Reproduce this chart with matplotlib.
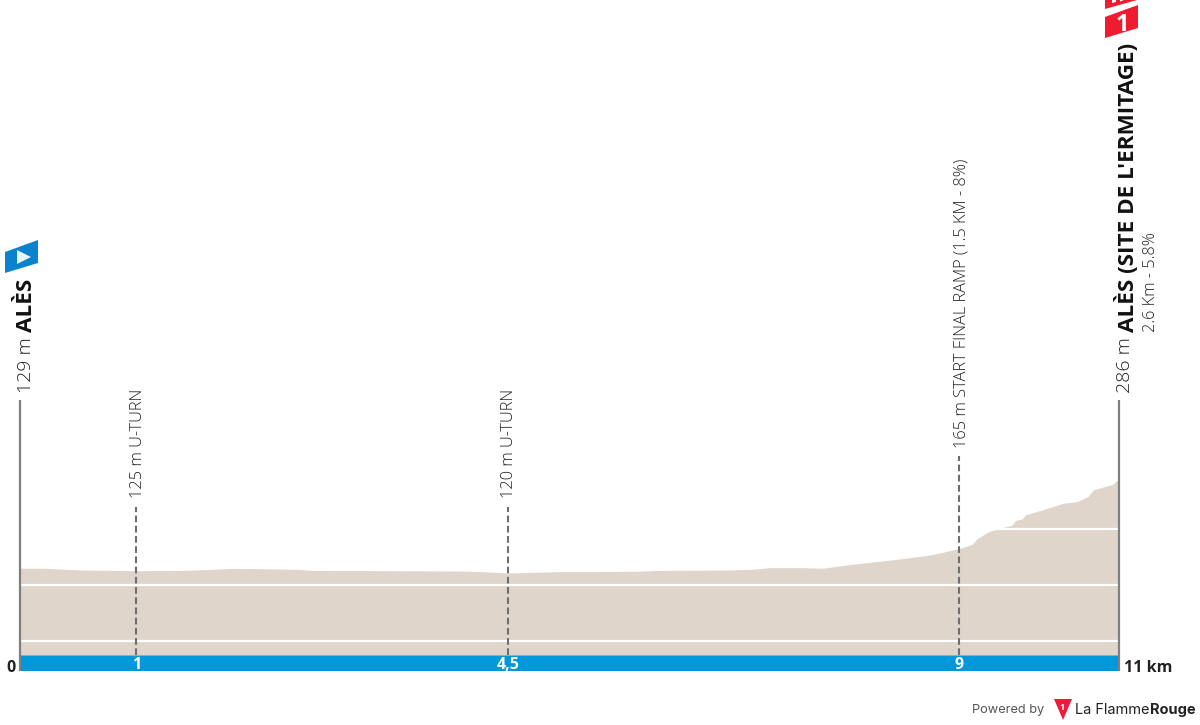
import matplotlib
matplotlib.use('Agg')
from matplotlib import pyplot as plt
from matplotlib.patches import Polygon

# profile
dist_km = [0, 0.23, 0.57, 1.13, 1.6, 1.93, 2.13, 2.47, 2.77, 2.93, 3.6, 4.4, 4.6, 4.89, 5.13, 5.41, 6.14,
           6.38, 7.08, 7.31, 7.51, 7.81, 8.04, 8.28, 8.78, 9.11, 9.41, 9.53, 9.58, 9.69, 9.84, 9.93, 9.96,
           10.03, 10.06, 10.28, 10.44, 10.58, 10.69, 10.74, 10.94, 10.97, 11]
alt_m = [130, 130, 127, 125.5, 126, 128, 129.7, 129, 128, 126, 125.6, 125, 124, 121.4, 122.6, 124, 124.4,
         126, 126.8, 128, 131, 131, 130, 136, 146, 153.6, 165.5, 173, 183, 195, 203, 207, 215,
         218, 225, 237, 246, 249, 258, 270, 280, 286, 286]

grid_m = [0, 100, 200]
marker_km = [1.16, 4.88, 9.4]
marker_txt = ['125 m U-TURN', '120 m U-TURN', '165 m START FINAL RAMP (1.5 KM - 8%)']
marker_lbl = ['1', '4,5', '9']
end_km = [0, 11]

C_FILL = '#dfd5cb'
C_BAND = '#0098d8'
C_LINE = '#7f7f7f'
C_TEXT = '#222222'
FONT = 'Open Sans'

W, H = 1200, 725
fig = plt.figure(figsize=(W / 100, H / 100), dpi=100)
ax = fig.add_axes([0, 0, 1, 1])
# 99.9 px per km, 0.56 px per m, 0 m sits at y=641 px
ax.set_xlim(-20.3 / 99.9, (W - 20.3) / 99.9)
ax.set_ylim((641 - H) / 0.56, 641 / 0.56)
ax.axis('off')

base = -25
band = -53.5
prof = ax.fill_between(dist_km, base, alt_m, color=C_FILL, lw=0, zorder=1)
for g in grid_m:
    ln = ax.plot([0, 11], [g, g], color='white', lw=1.6, zorder=2, solid_capstyle='butt')[0]
    ln.set_clip_path(prof.get_paths()[0], prof.get_transform())
ax.fill_between([0, 11], band, base, color=C_BAND, lw=0, zorder=3)
ax.plot([0, 11], [base, base], color='#a9a9a0', lw=0.7, zorder=4)

# start and finish lines
for k in end_km:
    ax.plot([k, k], [band, 430], color=C_LINE, lw=1.6, zorder=5, solid_capstyle='butt')

# intermediate points
for k, t, l in zip(marker_km, marker_txt, marker_lbl):
    top = 240 if k < 9 else 330
    ax.plot([k, k], [base, top], color='#6e6e6e', lw=1.5, ls=(0, (3.2, 1.7)), zorder=5)
    ax.annotate(t, (k, top), xytext=(1.2, 6), textcoords='offset points', rotation=90, ha='center', va='bottom',
                fontsize=11.8, color=C_TEXT, family=FONT, fontweight='light')
    ax.text(k, -43, l, ha='center', va='center', fontsize=11.5, color='white', family=FONT,
            fontweight='bold', zorder=6)

ax.text(-0.05, -48, '0', ha='right', va='center', fontsize=11.5, color='#222222', family=FONT, fontweight='bold')
ax.text(11.05, -48, '11 km', ha='left', va='center', fontsize=11.5, color='#222222', family=FONT, fontweight='bold')

# decoration in pixel coordinates
px = fig.add_axes([0, 0, 1, 1], facecolor='none')
px.set_xlim(0, W)
px.set_ylim(H, 0)
px.axis('off')


def vtext(x, y, s, size, weight='normal', color=C_TEXT):
    px.text(x, y, s, rotation=90, ha='center', va='bottom', fontsize=size, family=FONT,
            fontweight=weight, color=color)


vtext(26, 393, '129 m', 14, 'light')
vtext(27, 332, 'ALÈS', 16.2, 'bold', '#111111')
vtext(1125, 393, '286 m', 14, 'light')
vtext(1127.5, 332, "ALÈS (SITE DE L'ERMITAGE)", 16.2, 'bold', '#111111')
vtext(1151, 332, '2.6 Km - 5.8%', 11.7, 'light')

# start flag
px.add_patch(Polygon([(5, 252), (38, 240), (38, 263), (5, 273)], color='#0a83cc', lw=0))
px.add_patch(Polygon([(17, 250), (31, 257), (17, 264)], color='#eaf4fb', lw=0))
# finish flag
px.add_patch(Polygon([(1105, 17), (1138, 5), (1138, 28), (1105, 38)], color='#ee1c2e', lw=0))
px.text(1122, 25, '1', ha='center', va='center', fontsize=17, family=FONT, fontweight='bold', color='white')
px.add_patch(Polygon([(1105, 0), (1137, 0), (1105, 9)], color='#ee1c2e', lw=0))
px.add_patch(Polygon([(1112, 0), (1116, 0), (1116, 2), (1112, 3)], color='white', lw=0))
px.add_patch(Polygon([(1120, 0), (1124, 0), (1120, 1.5)], color='white', lw=0))

# footer
px.text(1044, 710, 'Powered by', ha='right', va='center', fontsize=9.2, family='Inter', color='#555555')
px.add_patch(Polygon([(1054, 699), (1072, 699), (1063, 720)], color='#ee1c3a', lw=0))
px.text(1062.5, 707, '1', ha='center', va='center', fontsize=6.5, family=FONT, fontweight='bold', color='white')
px.text(1075, 710, 'La Flamme', ha='left', va='center', fontsize=10.5, family='Inter', color='#222222')
px.text(1150, 710, 'Rouge', ha='left', va='center', fontsize=10.5, family='Inter', fontweight='bold', color='#222222')

fig.savefig('out.png', dpi=100)
